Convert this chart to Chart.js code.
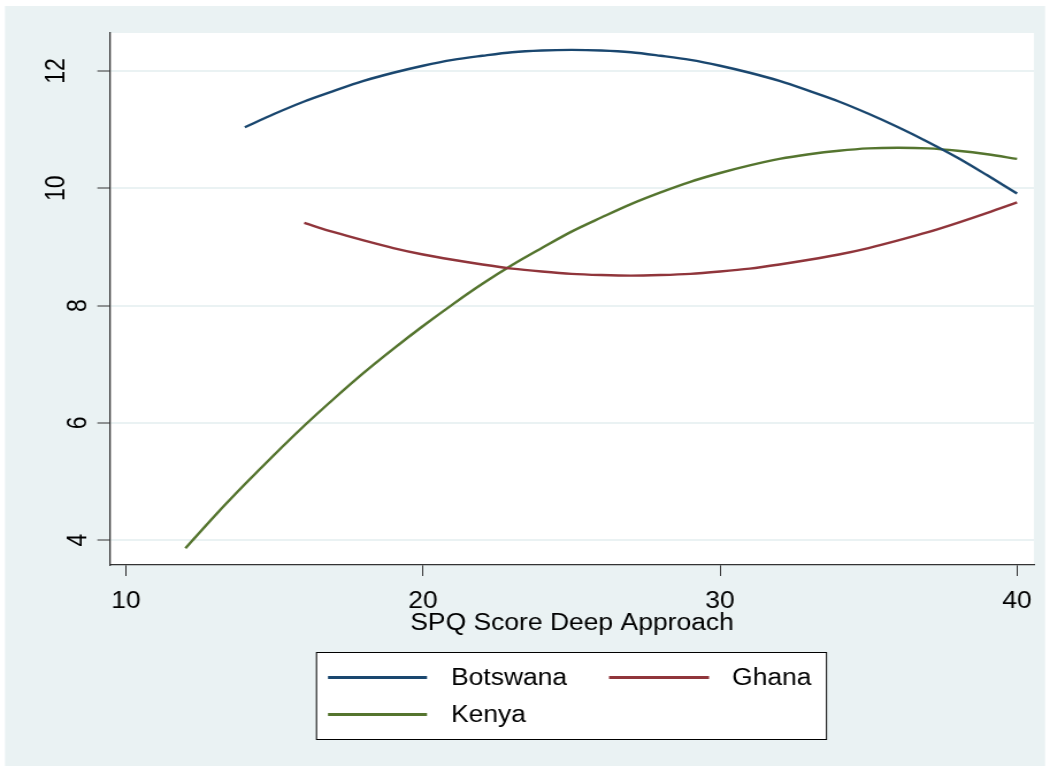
<!DOCTYPE html>
<html>
<head>
<meta charset="utf-8">
<script src="https://cdn.jsdelivr.net/npm/chart.js@4.4.1/dist/chart.umd.min.js"></script>
<style>
  html, body { margin: 0; padding: 0; background: #ffffff; overflow: hidden; }
  /* the graph is laid out on a narrower canvas and widened, like a Stata export */
  #frame { width: 913px; height: 771px; transform: scaleX(1.150055); transform-origin: 0 0; }
  canvas { display: block; }
</style>
</head>
<body>
<div id="frame"><canvas id="chart" width="913" height="771"></canvas></div>
<script>
// Fitted (quadratic) curves by country, read at each SPQ deep-approach score
const xTicks = [10, 20, 30, 40];
const yTicks = [4, 6, 8, 10, 12];

const botswanaScore = [14, 15, 16, 17, 18, 19, 20, 21, 22, 23, 24, 25, 26, 27, 28, 29, 30, 31, 32, 33, 34, 35, 36, 37, 38, 39, 40];
const botswanaValue = [11.04, 11.27, 11.48, 11.66, 11.83, 11.97, 12.09, 12.19, 12.26, 12.32, 12.35, 12.36, 12.35, 12.32, 12.26, 12.19, 12.09, 11.97, 11.83, 11.66, 11.48, 11.27, 11.04, 10.79, 10.52, 10.22, 9.91];

const ghanaScore = [16, 17, 18, 19, 20, 21, 22, 23, 24, 25, 26, 27, 28, 29, 30, 31, 32, 33, 34, 35, 36, 37, 38, 39, 40];
const ghanaValue = [9.41, 9.25, 9.11, 8.98, 8.87, 8.78, 8.70, 8.63, 8.58, 8.54, 8.52, 8.51, 8.52, 8.54, 8.58, 8.63, 8.70, 8.78, 8.87, 8.98, 9.11, 9.25, 9.41, 9.58, 9.76];

const kenyaScore = [12, 13, 14, 15, 16, 17, 18, 19, 20, 21, 22, 23, 24, 25, 26, 27, 28, 29, 30, 31, 32, 33, 34, 35, 36, 37, 38, 39, 40];
const kenyaValue = [3.86, 4.42, 4.95, 5.46, 5.95, 6.41, 6.85, 7.26, 7.65, 8.02, 8.37, 8.69, 8.98, 9.26, 9.50, 9.73, 9.93, 10.11, 10.26, 10.39, 10.50, 10.58, 10.64, 10.68, 10.69, 10.68, 10.64, 10.58, 10.50];

const FONT = '"Liberation Sans", Arial, Helvetica, sans-serif';
const FONT_SIZE = 23;
const SX = 1050 / 913;          // horizontal widening of the frame
const px = v => v / SX;          // page x -> canvas x

const toPoints = (xs, ys) => xs.map((x, i) => ({ x: x, y: ys[i] }));

// graph region, plot region and white outer margin
const backdrop = {
  id: 'backdrop',
  beforeDraw(chart) {
    const { ctx, chartArea: a } = chart;
    ctx.save();
    ctx.fillStyle = '#ffffff';
    ctx.fillRect(0, 0, chart.width, chart.height);
    ctx.fillStyle = '#eaf2f3';
    ctx.fillRect(px(5), 6, px(1045) - px(5), 760);
    ctx.fillStyle = '#ffffff';
    ctx.fillRect(a.left, a.top, a.right - a.left, a.bottom - a.top);
    ctx.restore();
  }
};

// vertical y tick labels, reading bottom to top
const yLabels = {
  id: 'yLabels',
  afterDraw(chart) {
    const s = chart.scales.y, ctx = chart.ctx;
    ctx.save();
    ctx.font = FONT_SIZE + 'px ' + FONT;
    ctx.fillStyle = '#000000';
    ctx.textAlign = 'center';
    ctx.textBaseline = 'middle';
    s.ticks.forEach(t => {
      const label = String(t.value);
      const w = ctx.measureText(label).width;
      const cx = s.right - 8 - 1.5 * w;   // wider labels sit further from the axis
      const cy = s.getPixelForValue(t.value);
      ctx.save();
      ctx.translate(cx, cy);
      ctx.rotate(-Math.PI / 2);
      ctx.fillText(label, 0, 0);
      ctx.restore();
    });
    ctx.restore();
  }
};

// boxed two-column legend below the axis title
const legendBox = {
  id: 'legendBox',
  afterDraw(chart) {
    const ctx = chart.ctx;
    const ds = chart.data.datasets;
    const l = px(316.5), r = px(826.5), t = 652.5, b = 739.5;
    ctx.save();
    ctx.fillStyle = '#ffffff';
    ctx.fillRect(l, t, r - l, b - t);
    ctx.strokeStyle = '#000000';
    ctx.lineWidth = 1;
    ctx.strokeRect(l, t, r - l, b - t);
    const slots = [
      { x0: px(328), x1: px(427), tx: px(451), y: 677.5 },
      { x0: px(609), x1: px(709), tx: px(732), y: 677.5 },
      { x0: px(328), x1: px(427), tx: px(451), y: 714.5 }
    ];
    ctx.font = FONT_SIZE + 'px ' + FONT;
    ctx.textAlign = 'left';
    ctx.textBaseline = 'middle';
    ds.forEach((d, i) => {
      const s = slots[i];
      ctx.strokeStyle = d.borderColor;
      ctx.lineWidth = 2.8;
      ctx.beginPath();
      ctx.moveTo(s.x0, s.y);
      ctx.lineTo(s.x1, s.y);
      ctx.stroke();
      ctx.fillStyle = '#000000';
      ctx.fillText(d.label, s.tx, s.y + 1);
    });
    ctx.restore();
  }
};

const lineStyle = { borderWidth: 2.4, pointRadius: 0, pointHoverRadius: 0, fill: false, cubicInterpolationMode: 'monotone' };

new Chart(document.getElementById('chart'), {
  type: 'line',
  data: {
    datasets: [
      Object.assign({ label: 'Botswana', data: toPoints(botswanaScore, botswanaValue), borderColor: '#1a476f' }, lineStyle),
      Object.assign({ label: 'Ghana', data: toPoints(ghanaScore, ghanaValue), borderColor: '#90353b' }, lineStyle),
      Object.assign({ label: 'Kenya', data: toPoints(kenyaScore, kenyaValue), borderColor: '#55752f' }, lineStyle)
    ]
  },
  options: {
    responsive: false,
    animation: false,
    devicePixelRatio: 1,
    layout: { padding: { left: 0, top: 33, right: 913 - px(1034), bottom: 131 } },
    plugins: { legend: { display: false }, tooltip: { enabled: false } },
    scales: {
      x: {
        type: 'linear',
        min: 9.461,
        max: 40.572,
        afterBuildTicks(s) { s.ticks = xTicks.map(v => ({ value: v })); },
        afterFit(s) { s.height = 75; },
        grid: { drawOnChartArea: false, drawTicks: true, tickLength: 11, tickColor: '#333333', tickWidth: 1 },
        border: { display: true, color: '#333333', width: 1.3 },
        ticks: { color: '#000000', font: { family: FONT, size: FONT_SIZE }, padding: 12, maxRotation: 0, autoSkip: false },
        title: { display: true, text: 'SPQ Score Deep Approach', color: '#000000', font: { family: FONT, size: FONT_SIZE }, padding: { top: 0, bottom: 3 } }
      },
      y: {
        type: 'linear',
        min: 3.574,
        max: 12.648,
        afterBuildTicks(s) { s.ticks = yTicks.map(v => ({ value: v })); },
        afterFit(s) { s.width = px(110); },
        grid: { color: '#eaf2f3', lineWidth: 2, drawTicks: true, tickLength: 11, tickColor: '#333333', tickWidth: 1 },
        border: { display: true, color: '#333333', width: 1.3 },
        ticks: { display: false }
      }
    }
  },
  plugins: [backdrop, yLabels, legendBox]
});
</script>
</body>
</html>
